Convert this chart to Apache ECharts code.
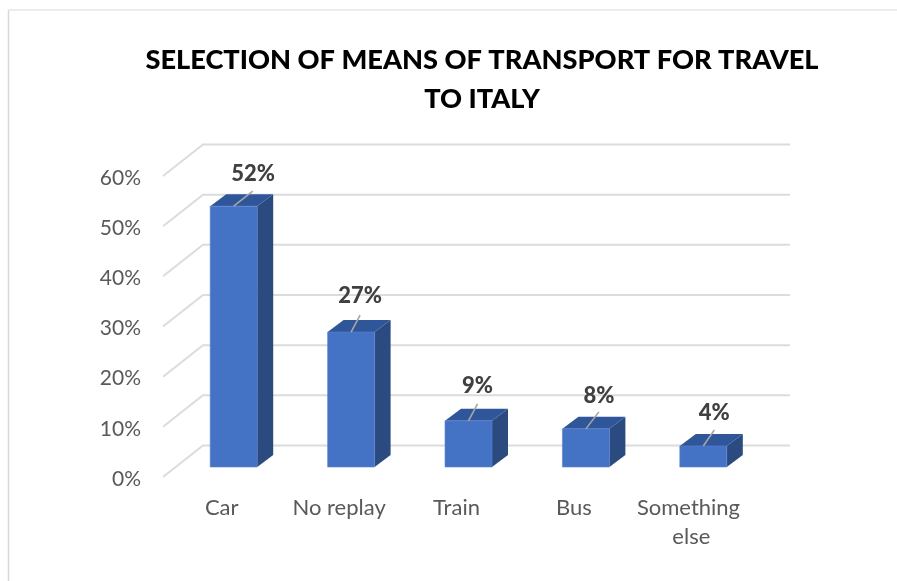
<!DOCTYPE html>
<html>
<head>
<meta charset="utf-8">
<script src="https://cdn.jsdelivr.net/npm/echarts@6/dist/echarts.min.js"></script>
<style>html,body{margin:0;padding:0;background:#fff}#c{width:897px;height:581px}</style>
</head>
<body>
<div id="c"></div>
<script>
const titleText = 'SELECTION OF MEANS OF TRANSPORT FOR TRAVEL\nTO ITALY';
const categories = ['Car', 'No replay', 'Train', 'Bus', 'Something else'];
const shares = [52, 26.9, 9.2, 7.6, 4.2];
const gridTicks = [0, 10, 20, 30, 40, 50, 60];

// depth of the drawn box, in pixels (style only)
const wallDepth = [40, -31.5];
const barShift = [12, -10];
const barDepth = [16, -12];
const barWidth = 47;
const leaderEnds = [[19, -15], [9, -17], [9, -17], [13, -17], [11, -16]];
const labelLift = [-32, -36, -35, -33, -33];
const font = 'Lato, Carlito, Calibri, sans-serif';

const chart = echarts.init(document.getElementById('c'), null, {renderer: 'canvas'});
chart.setOption({
  animation: false,
  backgroundColor: '#fff',
  title: {
    text: titleText, left: 477, top: 36, textAlign: 'center',
    textStyle: {fontFamily: font, fontWeight: 900, fontSize: 27.2, color: '#000', lineHeight: 39}
  },
  graphic: [
    {type: 'line', silent: true, shape: {x1: 8.5, y1: 10, x2: 897, y2: 10}, style: {stroke: '#d9d9d9', lineWidth: 1}},
    {type: 'line', silent: true, shape: {x1: 8.5, y1: 10, x2: 8.5, y2: 581}, style: {stroke: '#d9d9d9', lineWidth: 1.5}}
  ],
  grid: {left: 163, top: 176, width: 587, height: 301, containLabel: false},
  xAxis: {
    type: 'category', data: categories,
    axisLine: {show: false}, axisTick: {show: false}, splitLine: {show: false},
    axisLabel: {interval: 0, margin: 16, fontFamily: font, fontSize: 22, color: '#595959', lineHeight: 29, width: 116, overflow: 'break'}
  },
  yAxis: {
    type: 'value', min: 0, max: 60, interval: 10,
    axisLine: {show: false}, axisTick: {show: false}, splitLine: {show: false},
    axisLabel: {margin: 22, fontFamily: font, fontSize: 21, color: '#595959', verticalAlign: 'top', lineHeight: 4, formatter: v => v + '%'}
  },
  series: [
    {
      type: 'custom', coordinateSystem: 'cartesian2d', silent: true, clip: false, z: 1,
      data: gridTicks.map(v => [0, v]),
      encode: {x: 0, y: 1},
      renderItem(params, api) {
        const cs = params.coordSys;
        const y = api.coord([0, api.value(1)])[1];
        const bx = cs.x + wallDepth[0], by = y + wallDepth[1];
        return {
          type: 'polyline',
          shape: {points: [[cs.x, y], [bx, by], [cs.x + cs.width + wallDepth[0], by]]},
          style: {stroke: '#dcdcdc', lineWidth: 2, fill: null}
        };
      }
    },
    {
      type: 'custom', coordinateSystem: 'cartesian2d', silent: true, clip: false, z: 2,
      data: shares.map((v, i) => [i, v]),
      encode: {x: 0, y: 1},
      renderItem(params, api) {
        const i = api.value(0), v = api.value(1);
        const top = api.coord([i, v]), base = api.coord([i, 0]);
        const l = top[0] + barShift[0] - barWidth / 2, r = l + barWidth;
        const t = top[1] + barShift[1], b = base[1] + barShift[1];
        const dx = barDepth[0], dy = barDepth[1];
        const cx = (l + r) / 2;
        const end = leaderEnds[i];
        return {
          type: 'group',
          children: [
            {type: 'polygon', shape: {points: [[r, t], [r + dx, t + dy], [r + dx, b + dy], [r, b]]}, style: {fill: '#2a4a80'}},
            {type: 'polygon', shape: {points: [[l, t], [l + dx, t + dy], [r + dx, t + dy], [r, t]]}, style: {fill: '#30569a'}},
            {type: 'rect', shape: {x: l, y: t, width: barWidth, height: b - t}, style: {fill: '#4472c4', stroke: '#5b85d0', lineWidth: 0.6}},
            {type: 'line', shape: {x1: cx, y1: t, x2: cx + end[0], y2: t + end[1]}, style: {stroke: '#a6a6a6', lineWidth: 1.6}},
            {type: 'text', style: {
              x: cx + end[0] + (i === 0 ? 0.5 : 0), y: t + labelLift[i],
              text: Math.round(v) + '%', align: 'center', verticalAlign: 'middle',
              fontFamily: font, fontWeight: 900, fontSize: 22, fill: '#404040'
            }}
          ]
        };
      }
    }
  ]
});
</script>
</body>
</html>
